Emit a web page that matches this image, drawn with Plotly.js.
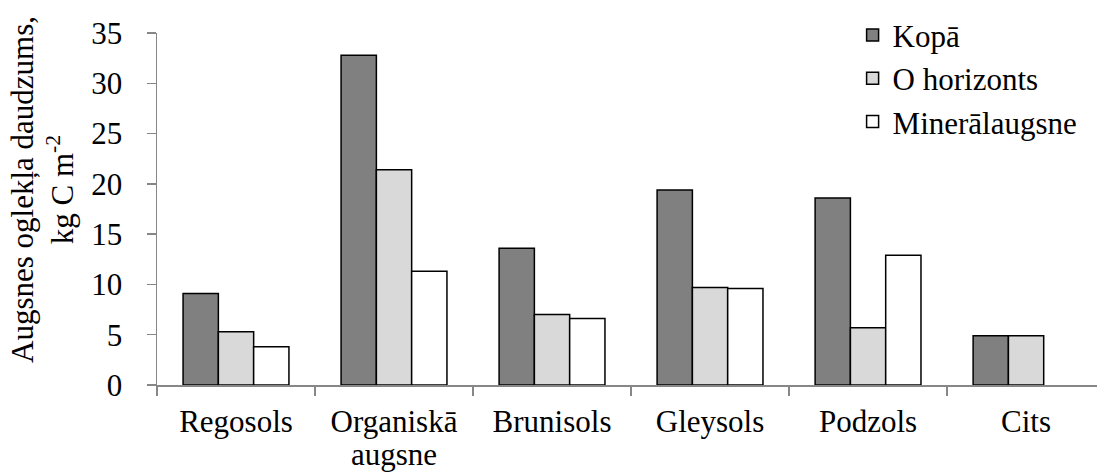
<!DOCTYPE html>
<html>
<head>
<meta charset="utf-8">
<script src="https://cdn.plot.ly/plotly-3.0.1.min.js"></script>
<style>html,body{margin:0;padding:0;background:#fff;overflow:hidden;}</style>
</head>
<body>
<div id="chart" style="width:1097px;height:474px;"></div>
<script>
const categories = ["Regosols", "Organiskā augsne", "Brunisols", "Gleysols", "Podzols", "Cits"];
const tickFirstLines = ["Regosols", "Organiskā", "Brunisols", "Gleysols", "Podzols", "Cits"];
const tickSecondLines = ["", "augsne", "", "", "", ""];
const kopa = [9.1, 32.8, 13.6, 19.4, 18.6, 4.9];
const oHorizonts = [5.3, 21.4, 7.0, 9.7, 5.7, 4.9];
const mineralaugsne = [3.8, 11.3, 6.6, 9.6, 12.9, null];
const seriesNames = ["Kopā", "O horizonts", "Minerālaugsne"];
const yTicks = [0, 5, 10, 15, 20, 25, 30, 35];

const font = {family: "'Liberation Serif', 'Times New Roman', serif", size: 31, color: "#000"};
const lineStyle = {color: "#000", width: 1.5};

const data = [
  {type: "bar", name: seriesNames[0], x: categories, y: kopa, marker: {color: "#808080", line: lineStyle}},
  {type: "bar", name: seriesNames[1], x: categories, y: oHorizonts, marker: {color: "#d9d9d9", line: lineStyle}},
  {type: "bar", name: seriesNames[2], x: categories, y: mineralaugsne, marker: {color: "#ffffff", line: lineStyle}}
];

const annotations = [{
  text: "Augsnes oglekļa daudzums,<br>kg C m<sup>-2</sup>",
  xref: "paper", yref: "paper", x: (42 - 157) / 940, y: (385 - 190) / 352,
  xanchor: "center", yanchor: "middle", textangle: -90, showarrow: false, font: font
}];
categories.forEach((c, i) => {
  if (tickSecondLines[i]) {
    annotations.push({
      text: tickSecondLines[i], xref: "x", yref: "paper", x: c, y: (385 - 455) / 352,
      xanchor: "center", yanchor: "middle", showarrow: false, font: font
    });
  }
});

const layout = {
  width: 1097, height: 474,
  margin: {l: 157, r: 0, t: 33, b: 89},
  paper_bgcolor: "#fff", plot_bgcolor: "#fff",
  font: font,
  barmode: "group", bargap: 0.33, bargroupgap: 0,
  showlegend: true,
  legend: {x: 0.74, xanchor: "left", y: 1.07, yanchor: "top", font: font, bgcolor: "rgba(0,0,0,0)", traceorder: "normal"},
  xaxis: {
    type: "category", range: [-0.5, 5.449], tickson: "boundaries",
    tickvals: categories, ticktext: tickFirstLines,
    showline: true, linecolor: "#878787", linewidth: 1.5,
    ticks: "outside", ticklen: 9, tickcolor: "#878787", tickwidth: 1.5,
    showgrid: false, zeroline: false, tickfont: font, ticklabelstandoff: 8
  },
  yaxis: {
    range: [0, 35], tickvals: yTicks, ticktext: yTicks.map(String),
    showline: true, linecolor: "#878787", linewidth: 1.5,
    ticks: "outside", ticklen: 9, tickcolor: "#878787", tickwidth: 1.5,
    showgrid: false, zeroline: false, tickfont: font, ticklabelstandoff: 18
  },
  annotations: annotations
};

Plotly.newPlot("chart", data, layout, {staticPlot: true});
</script>
</body>
</html>
